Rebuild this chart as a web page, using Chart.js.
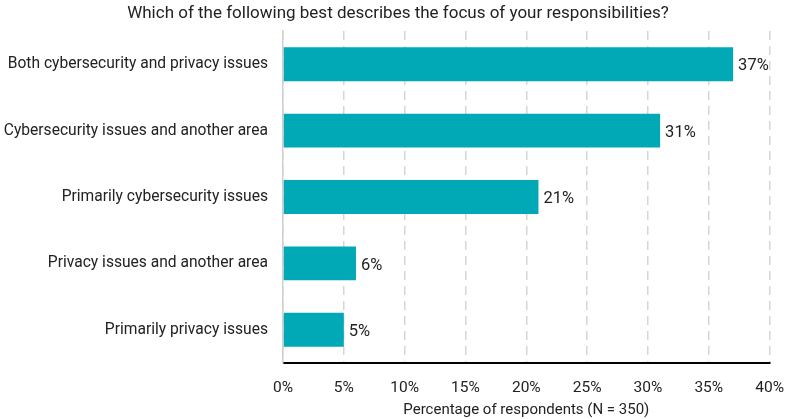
<!DOCTYPE html>
<html>
<head>
<meta charset="utf-8">
<script src="https://cdn.jsdelivr.net/npm/chart.js@4/dist/chart.umd.min.js"></script>
<style>
  html, body { margin: 0; padding: 0; background: #fff; }
  #wrap { width: 800px; height: 419px; }
</style>
</head>
<body>
<div id="wrap"><canvas id="focusChart" width="800" height="419"></canvas></div>
<script>
const categories = [
  'Both cybersecurity and privacy issues',
  'Cybersecurity issues and another area',
  'Primarily cybersecurity issues',
  'Privacy issues and another area',
  'Primarily privacy issues'
];
const percentages = [37, 31, 21, 6, 5];
const xTicks = [0, 5, 10, 15, 20, 25, 30, 35, 40];
const chartTitle = 'Which of the following best describes the focus of your responsibilities?';

const FONT = 'Roboto, "Noto Sans", sans-serif';

// draws "37%" etc. just right of each bar, plus the title centred on the page
const barLabels = {
  id: 'barLabels',
  afterDatasetsDraw(chart) {
    const ctx = chart.ctx;
    const meta = chart.getDatasetMeta(0);
    ctx.save();
    ctx.font = '16.5px ' + FONT;
    ctx.fillStyle = '#222';
    ctx.textAlign = 'left';
    ctx.textBaseline = 'middle';
    meta.data.forEach((bar, i) => {
      ctx.fillText(percentages[i] + '%', bar.x + 5, bar.y + 2);
    });
    ctx.font = '17px ' + FONT;
    ctx.textAlign = 'center';
    ctx.fillText(chartTitle, chart.width / 2 - 2, 14);
    ctx.restore();
  }
};

new Chart(document.getElementById('focusChart'), {
  type: 'bar',
  data: {
    labels: categories,
    datasets: [{
      data: percentages,
      backgroundColor: '#00a9b5',
      borderWidth: 0,
      barPercentage: 0.51,
      categoryPercentage: 1
    }]
  },
  plugins: [barLabels],
  options: {
    indexAxis: 'y',
    responsive: false,
    animation: false,
    layout: { padding: { top: 31, right: 26, bottom: 0, left: 0 } },
    plugins: {
      legend: { display: false },
      tooltip: { enabled: false },
      title: { display: false }
    },
    scales: {
      x: {
        min: 0,
        max: 40,
        afterBuildTicks(scale) {
          scale.ticks = xTicks.map(v => ({ value: v }));
        },
        afterFit(scale) { scale.height = 56; },
        ticks: {
          color: '#222',
          font: { family: FONT, size: 15.5 },
          padding: 16,
          maxRotation: 0,
          callback: v => v + '%'
        },
        grid: { color: '#d6d6d6', lineWidth: 1.5, drawTicks: false },
        border: { display: true, color: '#000', width: 2, dash: [9, 6] },
        title: {
          display: true,
          text: 'Percentage of respondents (N = 350)',
          color: '#222',
          font: { family: FONT, size: 15 },
          padding: { top: 0, bottom: 0 }
        }
      },
      y: {
        afterFit(scale) { scale.width = 283; },
        ticks: {
          color: '#222',
          font: { family: FONT, size: 15.6 },
          padding: 15
        },
        grid: { display: false, drawTicks: false },
        border: { display: true, color: '#cfcfcf', width: 1.5 }
      }
    }
  }
});
</script>
</body>
</html>
